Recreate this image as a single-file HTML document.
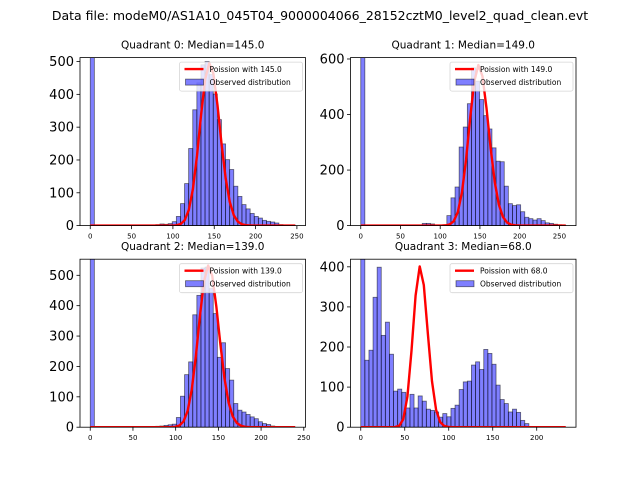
<!DOCTYPE html>
<html><head><meta charset="utf-8">
<style>
html,body{margin:0;padding:0;background:#fff;}
svg{display:block;font-family:"DejaVu Sans","Liberation Sans",sans-serif;}
</style></head>
<body>
<svg id="fig" width="640" height="480" viewBox="0 0 640 480" xmlns="http://www.w3.org/2000/svg">
<rect x="0" y="0" width="640" height="480" fill="#fff"/>
<text x="320" y="20" font-size="12.5" text-anchor="middle">Data file: modeM0/AS1A10_045T04_9000004066_28152cztM0_level2_quad_clean.evt</text>
</svg>
<script>
// ---- data ----
const q0Counts = [3000,0,0,0,0,0,0,0,0,0,0,0,0,0,2,2,3,5,4,6,12,28,67,128,235,353,435,490,500,460,401,323,249,201,171,120,89,64,51,37,28,23,16,13,11,8,3,2,1,1];
const q1Counts = [3000,0,0,0,0,0,0,0,0,0,0,0,0,0,0,8,8,6,2,2,3,36,100,139,283,355,439,568,520,454,396,348,280,232,230,142,79,72,75,50,30,25,20,25,18,10,8,5,3,1];
const q2Counts = [3000,0,0,0,0,0,0,0,0,0,0,0,0,0,0,2,3,4,6,8,10,32,102,173,215,370,434,524,527,456,374,230,278,193,155,78,56,50,42,34,28,18,12,9,4,2,1,0,0,0];
const q3Counts = [3000,167,192,324,399,229,262,182,90,95,87,48,82,48,78,65,45,42,38,25,34,26,47,55,94,113,115,155,163,144,194,184,157,105,69,59,38,45,37,17,9,2,1,1,0,0,0,0,0,0];
const dataMax = [248,258,240,233];
const medians = [145.0,149.0,139.0,68.0];
const poissonPeak = [495,578,532,401];
const yMax = [512,605,553,419];
const yTicks0 = [0,100,200,300,400,500];
const yTicks1 = [0,200,400,600];
const yTicks2 = [0,100,200,300,400,500];
const yTicks3 = [0,100,200,300,400];
const xTicks012 = [0,50,100,150,200,250];
const xTicks3 = [0,50,100,150,200];

const NS="http://www.w3.org/2000/svg";
const svg=document.getElementById('fig');
function mk(tag,attrs,parent){const e=document.createElementNS(NS,tag);for(const k in attrs)e.setAttribute(k,attrs[k]);(parent||svg).appendChild(e);return e;}
function lgam(x){
  if(x<7){let r=0;while(x<7){r-=Math.log(x);x+=1;}return r+lgam(x);}
  return (x-0.5)*Math.log(x)-x+0.5*Math.log(2*Math.PI)+1/(12*x)-1/(360*x*x*x);
}
function pmf(k,mu){return Math.exp(k*Math.log(mu)-mu-lgam(k+1));}

const panels=[
 {L:80,T:57.6,counts:q0Counts,yt:yTicks0,xt:xTicks012},
 {L:350.5,T:57.6,counts:q1Counts,yt:yTicks1,xt:xTicks012},
 {L:80,T:259.2,counts:q2Counts,yt:yTicks2,xt:xTicks012},
 {L:350.5,T:259.2,counts:q3Counts,yt:yTicks3,xt:xTicks3}
];
const W=225.5,H=168;
panels.forEach((p,i)=>{
  const g=mk('g',{});
  
  
  const n=p.counts.length, dmax=dataMax[i], bw=dmax/n;
  const xmin=-0.05*dmax, xmax=1.05*dmax;
  const sx=v=>p.L+(v-xmin)/(xmax-xmin)*W;
  const sy=v=>p.T+H-(v/yMax[i])*H;
  const clipId='clip'+i;
  const cp=mk('clipPath',{id:clipId},g);
  mk('rect',{x:p.L,y:p.T,width:W,height:H},cp);
  const plot=mk('g',{'clip-path':'url(#'+clipId+')'},g);
  p.counts.forEach((c,k)=>{
    if(c<=0)return;
    const r=mk('rect',{x:sx(k*bw),y:sy(c),width:sx((k+1)*bw)-sx(k*bw),height:sy(0)-sy(c),fill:'rgba(0,0,255,0.5)',stroke:'rgba(0,0,0,0.55)','stroke-width':0.8},plot);
    
    
  });
  // poisson curve: sampled on a grid with spacing bw passing through mu-1
  const mu=medians[i], pk=mu-1, scale=poissonPeak[i]/pmf(pk,mu);
  let xs=[0];
  let start=pk-Math.floor(pk/bw)*bw;
  for(let x=start;x<dmax;x+=bw){if(x>0.01)xs.push(x);}
  xs.push(dmax);
  const pts=xs.map(x=>sx(x).toFixed(2)+','+sy(pmf(x,mu)*scale).toFixed(2));
  const pl=mk('polyline',{points:pts.join(' '),fill:'none',stroke:'#ff0000','stroke-width':2.4,'stroke-linejoin':'round'},plot);
  
  
  const fr=mk('rect',{x:p.L,y:p.T,width:W,height:H,fill:'none',stroke:'#000','stroke-width':0.8},g);
  
  
  p.yt.forEach(v=>{
    const y=sy(v);
    mk('line',{x1:p.L-3.5,x2:p.L,y1:y,y2:y,stroke:'#000','stroke-width':0.8},g);
    const t=mk('text',{x:p.L-6,y:y+4.5,'font-size':13,'text-anchor':'end'},g);
    t.textContent=v;
    
    
  });
  p.xt.forEach(v=>{
    const x=sx(v);
    mk('line',{x1:x,x2:x,y1:p.T+H,y2:p.T+H+3.5,stroke:'#000','stroke-width':0.8},g);
    const t=mk('text',{x:x,y:p.T+H+13,'font-size':7,'text-anchor':'middle'},g);
    t.textContent=v;
    
    
  });
  const tt=mk('text',{x:p.L+W/2,y:p.T-9,'font-size':10.5,'text-anchor':'middle'},g);
  tt.textContent='Quadrant '+i+': Median='+mu.toFixed(1);
  
  
  const lg=mk('g',{},g);
  
  
  const lx=p.L+W-126, ly=p.T+4.5;
  mk('rect',{x:lx,y:ly,width:123,height:29,rx:2,fill:'rgba(255,255,255,0.8)',stroke:'rgba(204,204,204,0.8)','stroke-width':0.8},lg);
  mk('line',{x1:lx+5,x2:lx+24,y1:ly+7,y2:ly+7,stroke:'#ff0000','stroke-width':2.4},lg);
  const t1=mk('text',{x:lx+30,y:ly+10,'font-size':7.5},lg);
  t1.textContent='Poission with '+mu.toFixed(1);
  
  
  mk('rect',{x:lx+6,y:ly+17,width:18,height:6,fill:'rgba(0,0,255,0.5)',stroke:'rgba(0,0,0,0.55)','stroke-width':0.8},lg);
  const t2=mk('text',{x:lx+30,y:ly+23,'font-size':7.5},lg);
  t2.textContent='Observed distribution';
  
  
});
</script>
</body></html>
